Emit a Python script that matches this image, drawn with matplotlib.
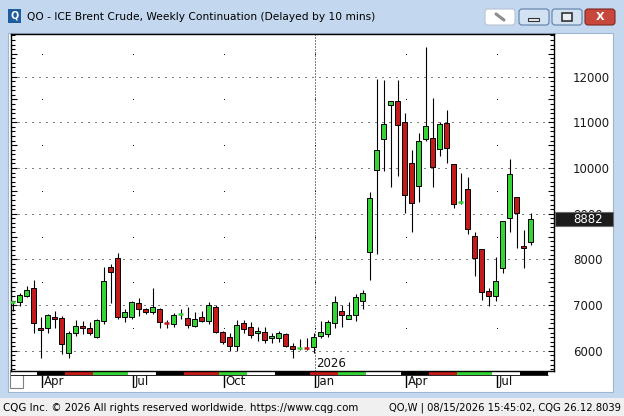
import numpy as np
import pandas as pd
import matplotlib
matplotlib.use('Agg')
import matplotlib.pyplot as plt
from matplotlib.patches import Rectangle, FancyBboxPatch
from matplotlib.transforms import blended_transform_factory
from matplotlib.ticker import FixedLocator, MultipleLocator, FuncFormatter

W, H = 624, 416

# weekly OHLC (first bar = week of 2025-03-10)
opens = [7050, 7060, 7210, 7370, 6490, 6490, 6750, 6720, 5950, 6400,
         6540, 6500, 6310, 6650, 7830, 8020, 6730, 6750, 7050, 6910,
         6840, 6910, 6630, 6580, 6780, 6720, 6550, 6730, 6660, 6950,
         6420, 6300, 6110, 6610, 6530, 6390, 6410, 6270, 6280, 6370,
         6100, 6055, 6080, 6090, 6330, 6360, 6600, 6860, 6700, 6790,
         7100, 8160, 9960, 10640, 11370, 11460, 11010, 10100, 9600, 10640,
         10650, 10410, 10980, 10080, 9245, 9550, 8510, 8230, 7300, 7190,
         7810, 8910, 9360, 8290, 8370]
highs = [7080, 7260, 7420, 7550, 6730, 6810, 6870, 6755, 6440, 6670,
         6660, 6620, 6690, 7840, 7900, 8140, 6910, 7090, 7160, 6930,
         7380, 6930, 6670, 6820, 6910, 6950, 6840, 6860, 7060, 7010,
         6430, 6400, 6670, 6670, 6640, 6530, 6510, 6380, 6430, 6390,
         6160, 6260, 6270, 6400, 6660, 6670, 7200, 7000, 7070, 7240,
         7320, 9480, 11940, 11930, 11470, 11930, 11200, 10390, 10760, 12650,
         11530, 11010, 11270, 10080, 9900, 9800, 8610, 8230, 7370, 8060,
         8840, 10190, 9370, 8640, 9020]
lows = [6880, 6990, 7170, 6400, 5840, 6380, 6500, 5920, 5840, 6320,
        6360, 6350, 6280, 6590, 7050, 6700, 6620, 6690, 6760, 6810,
        6810, 6490, 6490, 6510, 6690, 6490, 6510, 6640, 6580, 6400,
        6150, 5990, 5990, 6380, 6270, 6220, 6160, 6160, 6200, 6090,
        5850, 6020, 6020, 5960, 6270, 6310, 6490, 6510, 6690, 6660,
        6910, 7560, 8110, 9940, 9590, 9830, 9010, 8610, 9260, 10580,
        9590, 10260, 10120, 9130, 9220, 8560, 7640, 7110, 6990, 7100,
        7710, 8610, 8240, 7810, 8320]
closes = [7065, 7220, 7330, 6600, 6450, 6780, 6690, 6140, 6380, 6540,
          6490, 6380, 6670, 7520, 7720, 6730, 6850, 7060, 6910, 6840,
          6960, 6620, 6615, 6780, 6795, 6570, 6690, 6660, 7000, 6420,
          6200, 6110, 6570, 6480, 6350, 6430, 6240, 6320, 6400, 6110,
          6050, 6065, 6070, 6300, 6410, 6620, 7060, 6790, 6780, 7180,
          7260, 9340, 10390, 10960, 11460, 10930, 9420, 9240, 10590, 10910,
          10020, 10960, 10430, 9210, 9260, 8670, 8020, 7290, 7190, 7520,
          8840, 9870, 9010, 8240, 8882]

n_bars = len(closes)
weeks = pd.date_range('2025-03-10', periods=n_bars + 2, freq='W-MON')
price_levels = list(range(6000, 13000, 1000))

title = 'QO - ICE Brent Crude, Weekly Continuation (Delayed by 10 mins)'
footer_left = 'CQG Inc. \u00a9 2026 All rights reserved worldwide. https://www.cqg.com'
footer_right = 'QO,W | 08/15/2026 15:45:02, CQG 26.12.8039'

GREEN = '#33d433'
RED = '#c41a1a'


def rect(x0, y0, x1, y1):
    return [x0 / W, 1 - y1 / H, (x1 - x0) / W, (y1 - y0) / H]


fig = plt.figure(figsize=(W / 100, H / 100), dpi=100)
fig.patch.set_facecolor('#f0f0f0')

# ---- window chrome ----
bg = fig.add_axes([0, 0, 1, 1], zorder=0)
bg.set_xlim(0, W)
bg.set_ylim(H, 0)
bg.axis('off')
bg.add_patch(Rectangle((0, 0), W, 398, fc='#c3d7ee', ec='none'))
grad = np.linspace(0, 1, 50).reshape(-1, 1)
bg.imshow(grad, extent=(0, W, 33, 0), cmap=matplotlib.colors.LinearSegmentedColormap.from_list(
    'tb', ['#dde9f6', '#c0d4ec']), aspect='auto', zorder=0.5)
bg.add_patch(Rectangle((8, 33), 605, 359, fc='white', ec='#9fb6d0', lw=0.8, zorder=1))

bg.add_patch(Rectangle((8, 9), 13, 14, fc='#1d5d9e', ec='none', zorder=2))
bg.text(14.5, 16, 'Q', color='white', fontsize=7, fontweight='bold', ha='center', va='center', zorder=3)
bg.text(27, 17, title, fontsize=7.7, ha='left', va='center', color='#000000', zorder=3)

bg.add_patch(FancyBboxPatch((485, 9), 30, 16, boxstyle='round,pad=0,rounding_size=3',
                            fc='white', ec='#b8c4d2', lw=0.8, zorder=2))
bg.plot([496, 504], [14, 20], color='#8c8c8c', lw=2.2, solid_capstyle='round', zorder=3)
bg.add_patch(FancyBboxPatch((519, 9), 30, 16, boxstyle='round,pad=0,rounding_size=3',
                            fc='#d3e2f3', ec='#5e7ea6', lw=0.8, zorder=2))
bg.add_patch(Rectangle((528, 18), 11, 3, fc='#e8eef6', ec='#333333', lw=0.8, zorder=3))
bg.add_patch(FancyBboxPatch((552, 9), 30, 16, boxstyle='round,pad=0,rounding_size=3',
                            fc='#d3e2f3', ec='#5e7ea6', lw=0.8, zorder=2))
bg.add_patch(Rectangle((562, 13), 10, 8, fc='#e8eef6', ec='#333333', lw=1.2, zorder=3))
bg.add_patch(FancyBboxPatch((585, 9), 30, 16, boxstyle='round,pad=0,rounding_size=3',
                            fc='#c8473d', ec='#7d2a22', lw=0.8, zorder=2))
bg.text(600, 16.5, 'X', color='white', fontsize=8, fontweight='bold', ha='center', va='center', zorder=3)

bg.add_patch(Rectangle((10, 370), 13, 18, fc='white', ec='#808080', lw=0.8, zorder=4))
bg.text(3, 408, footer_left, fontsize=7.4, ha='left', va='center', color='#000000')
bg.text(621, 408, footer_right, fontsize=7.2, ha='right', va='center', color='#000000')

# ---- price chart ----
ax = fig.add_axes(rect(11, 34, 554, 371), zorder=2)
ax.set_facecolor('white')
ax.set_xlim(-0.24, 77.33)
ax.set_ylim(5558, 12932)
for s in ax.spines.values():
    s.set_color('black')
    s.set_linewidth(1.0)

for p in price_levels:
    ax.axhline(p, color='black', lw=0.72, ls=(0, (1, 6)), zorder=1)

quarter_idx = [i for i, d in enumerate(weeks) if d.day <= 7 and d.month in (1, 4, 7, 10)]
jan_idx = [i for i in quarter_idx if weeks[i].month == 1]
half_levels = [p + 500 for p in price_levels]
for qi in quarter_idx:
    ax.plot([qi + 0.15] * len(half_levels), half_levels, ls='none', marker='s',
            ms=0.6, mew=0, color='black', zorder=1)
for ji in jan_idx:
    ax.axvline(ji + 0.15, color='black', lw=0.72, ls=(0, (1, 2)), zorder=1)
    ax.text(ji + 0.35, 0.022, str(weeks[ji].year), transform=blended_transform_factory(ax.transData, ax.transAxes),
            fontsize=8.5, ha='left', va='center', color='#111111')

x = np.arange(n_bars)
ax.vlines(x, lows, highs, color='black', lw=0.8, zorder=2)
for i in range(n_bars):
    o, c = opens[i], closes[i]
    col = GREEN if c >= o else RED
    if abs(c - o) < 35:
        ax.hlines(c, i - 0.36, i + 0.36, color=col, lw=1.8, zorder=3)
    else:
        ax.add_patch(Rectangle((i - 0.33, min(o, c)), 0.66, abs(c - o),
                               fc=col, ec='black', lw=0.7, zorder=3))

ax.set_xticks([])
ax.yaxis.set_major_locator(FixedLocator(np.arange(6000, 13000, 500)))
ax.yaxis.set_minor_locator(MultipleLocator(100))
ax.yaxis.set_major_formatter(FuncFormatter(lambda v, _: f'{int(v)}' if v % 1000 == 0 else ''))
ax.tick_params(axis='y', which='both', direction='in', left=True, right=True,
               labelleft=False, labelright=True, width=0.8, color='black')
ax.tick_params(axis='y', which='major', length=4.5, pad=13.5, labelsize=8.5, labelcolor='#1a1a1a')
ax.tick_params(axis='y', which='minor', length=2.6)

# last price box
tr = blended_transform_factory(ax.transAxes, ax.transData)
ax.add_patch(Rectangle((1.002, closes[-1] - 155), 0.106, 310, transform=tr, fc='#1c1c1c',
                       ec='#6a6a6a', lw=0.8, clip_on=False, zorder=10))
ax.text(1.035, closes[-1], f'{closes[-1]}', transform=tr, fontsize=8.5, color='white',
        ha='left', va='center', clip_on=False, zorder=11)

# ---- month strip and labels ----
axm = fig.add_axes(rect(11, 371, 554, 388), sharex=ax, zorder=1)
axm.set_ylim(0, 1)
axm.axis('off')
cycle = ['black', RED, GREEN, 'white']
strip_bottom = 0.79
for i, d in enumerate(weeks):
    axm.add_patch(Rectangle((i - 0.5, strip_bottom), 1.0, 1 - strip_bottom,
                            fc=cycle[d.month % 4], ec='none'))
axm.hlines(strip_bottom, -0.5, len(weeks) - 0.5, color='black', lw=0.6)
for qi in quarter_idx:
    axm.vlines(qi + 0.15, 0.0, strip_bottom, color='black', lw=1.0)
    axm.text(qi + 0.45, 0.4, weeks[qi].strftime('%b'), fontsize=8.5, ha='left', va='center',
             color='#111111')

fig.savefig('out.png', dpi=100, facecolor=fig.get_facecolor())
